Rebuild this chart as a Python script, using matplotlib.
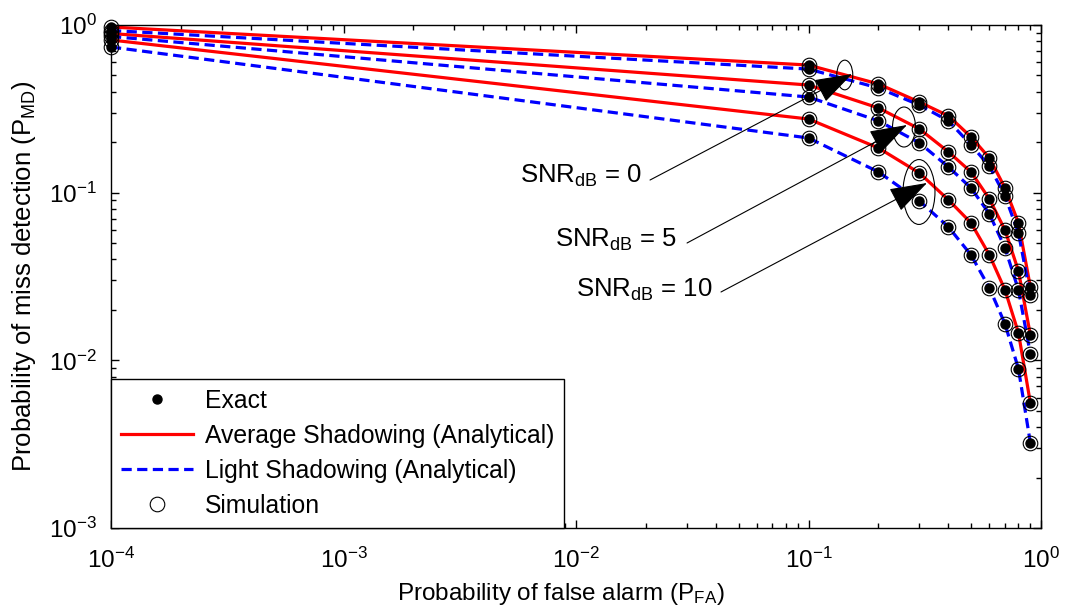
import numpy as np
import matplotlib
matplotlib.use("Agg")
import matplotlib.pyplot as plt
from matplotlib.patches import Ellipse
from matplotlib.lines import Line2D
from matplotlib.ticker import FixedLocator, LogLocator, NullFormatter

plt.rcParams['font.family'] = ['Liberation Sans', 'DejaVu Sans']
plt.rcParams['mathtext.fontset'] = 'custom'
plt.rcParams['mathtext.rm'] = 'Liberation Sans'
plt.rcParams['mathtext.it'] = 'Liberation Sans:italic'
plt.rcParams['mathtext.bf'] = 'Liberation Sans:bold'

# ---------------- data ----------------
pfa = [1e-4, 0.1, 0.2, 0.3, 0.4, 0.5, 0.6, 0.7, 0.8, 0.9]

avg_snr0 = [0.973, 0.577, 0.445, 0.347, 0.287, 0.215, 0.161, 0.1067, 0.066, 0.0274]
avg_snr5 = [0.890, 0.4386, 0.320, 0.240, 0.175, 0.1329, 0.0917, 0.0599, 0.0341, 0.01417]
avg_snr10 = [0.814, 0.275, 0.1847, 0.131, 0.0905, 0.066, 0.0425, 0.0263, 0.01457, 0.00557]

light_snr0 = [0.927, 0.546, 0.421, 0.333, 0.268, 0.1925, 0.144, 0.0956, 0.0575, 0.0245]
light_snr5 = [0.854, 0.372, 0.268, 0.198, 0.1423, 0.1067, 0.0746, 0.0468, 0.0263, 0.0109]
light_snr10 = [0.739, 0.212, 0.1329, 0.0892, 0.0624, 0.0425, 0.027, 0.0165, 0.00889, 0.00322]

avg_series = [avg_snr0, avg_snr5, avg_snr10]
light_series = [light_snr0, light_snr5, light_snr10]

xticks = [1e-4, 1e-3, 1e-2, 1e-1, 1e0]
xtick_labels = [r'$\mathregular{10^{-4}}$', r'$\mathregular{10^{-3}}$', r'$\mathregular{10^{-2}}$',
                r'$\mathregular{10^{-1}}$', r'$\mathregular{10^{0}}$']
yticks = [1e-3, 1e-2, 1e-1, 1e0]
ytick_labels = [r'$\mathregular{10^{-3}}$', r'$\mathregular{10^{-2}}$', r'$\mathregular{10^{-1}}$',
                r'$\mathregular{10^{0}}$']

legend_labels = ['Exact', 'Average Shadowing (Analytical)', 'Light Shadowing (Analytical)', 'Simulation']
snr_labels = [r'SNR$_{\mathregular{dB}}$ = 0', r'SNR$_{\mathregular{dB}}$ = 5', r'SNR$_{\mathregular{dB}}$ = 10']

# ---------------- figure ----------------
W, H = 1069, 608
fig = plt.figure(figsize=(W / 100, H / 100), dpi=100)
ax = fig.add_axes([111 / W, (H - 528) / H, 930 / W, 503 / H])

FS = 17.5
red = (1, 0, 0)
blue = (0, 0, 1)
dash = (0, (3.2, 1.7))

for ys in avg_series:
    ax.plot(pfa, ys, color=red, lw=2.3, zorder=2, solid_joinstyle='round')
for ys in light_series:
    ax.plot(pfa, ys, color=blue, lw=2.3, linestyle=dash, zorder=2)

for ys in avg_series + light_series:
    ax.plot(pfa, ys, linestyle='none', marker='o', ms=6.5, mfc='k', mec='k', zorder=3, clip_on=False)
    ax.plot(pfa, ys, linestyle='none', marker='o', ms=10.5, mfc='none', mec='k', mew=0.8,
            zorder=4, clip_on=False)

ax.set_xscale('log')
ax.set_yscale('log')
ax.set_xlim(1e-4, 1)
ax.set_ylim(1e-3, 1)

ax.xaxis.set_major_locator(FixedLocator(xticks))
ax.set_xticklabels(xtick_labels, fontsize=FS)
ax.yaxis.set_major_locator(FixedLocator(yticks))
ax.set_yticklabels(ytick_labels, fontsize=FS)
ax.xaxis.set_minor_locator(LogLocator(base=10, subs=np.arange(2, 10), numticks=20))
ax.yaxis.set_minor_locator(LogLocator(base=10, subs=np.arange(2, 10), numticks=20))
ax.xaxis.set_minor_formatter(NullFormatter())
ax.yaxis.set_minor_formatter(NullFormatter())
ax.tick_params(which='both', direction='in', top=True, right=True, width=1.0, colors='k')
ax.tick_params(which='major', length=6)
ax.tick_params(axis='x', which='major', pad=14)
ax.tick_params(axis='y', which='major', pad=10)
ax.tick_params(which='minor', length=3.5)
for s in ax.spines.values():
    s.set_linewidth(1.0)

ax.set_xlabel(r'Probability of false alarm (P$_{\mathregular{FA}}$)', fontsize=17.5)
ax.xaxis.set_label_coords(0.484, -0.105, transform=ax.transAxes)
ax.xaxis.label.set_va('top')
ax.set_ylabel(r'Probability of miss detection (P$_{\mathregular{MD}}$)', fontsize=18.5, labelpad=8)

# annotations (axes-fraction coordinates)
ell = [((0.789, 0.9006), 0.0172, 0.0590),
       ((0.8527, 0.7972), 0.0247, 0.0795),
       ((0.8688, 0.668), 0.0344, 0.129)]
for (c, w, h) in ell:
    ax.add_patch(Ellipse(c, w, h, transform=ax.transAxes, fill=False, ec='k', lw=0.8, zorder=5))

arrows = [((0.5796, 0.6918), (0.7968, 0.9026)),
          ((0.6194, 0.5666), (0.8559, 0.8012)),
          ((0.6559, 0.4692), (0.8774, 0.6859))]
for (p0, p1) in arrows:
    ax.annotate('', xy=p1, xycoords='axes fraction', xytext=p0, textcoords='axes fraction',
                arrowprops=dict(arrowstyle='-|>,head_length=1.2,head_width=0.4', mutation_scale=20,
                                lw=0.8, color='k', shrinkA=0, shrinkB=0), zorder=6)

text_pos = [(0.571, 0.6859), (0.6086, 0.5586), (0.6462, 0.4592)]
for (p, s) in zip(text_pos, snr_labels):
    ax.text(p[0], p[1], s, transform=ax.transAxes, ha='right', va='baseline', fontsize=18.5, zorder=6)

handles = [Line2D([], [], linestyle='none', marker='o', ms=6.5, mfc='k', mec='k'),
           Line2D([], [], color=red, lw=2.3),
           Line2D([], [], color=blue, lw=2.3, linestyle=dash),
           Line2D([], [], linestyle='none', marker='o', ms=10.5, mfc='none', mec='k', mew=0.8)]
leg = ax.legend(handles, legend_labels, loc='lower left', fontsize=17.8, frameon=True, fancybox=False,
                edgecolor='k', framealpha=1, borderaxespad=0, handlelength=2.9, handletextpad=0.5,
                labelspacing=0.45, borderpad=0.4)
leg.get_frame().set_linewidth(1.0)
leg.set_zorder(10)

fig.savefig('out.png', dpi=100)
